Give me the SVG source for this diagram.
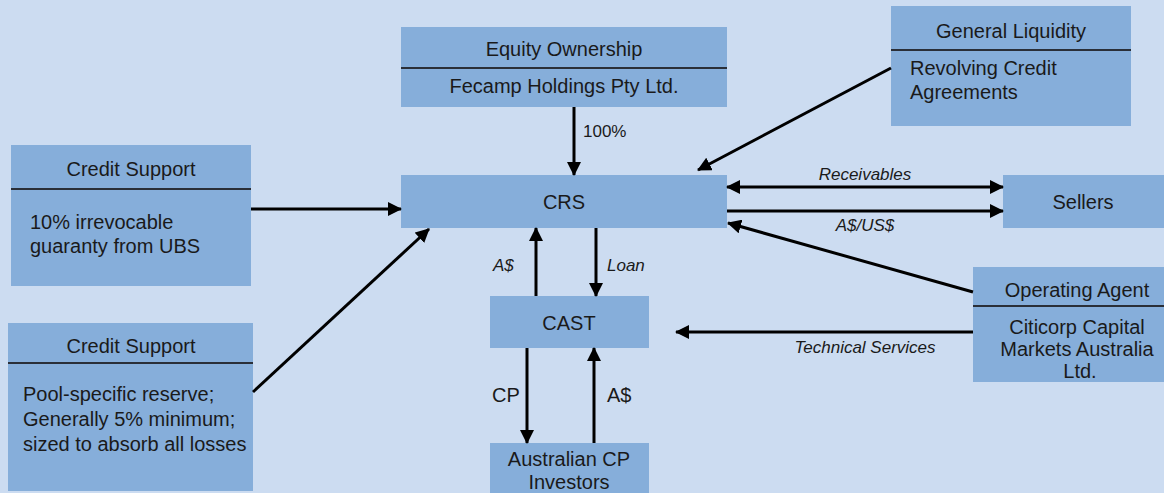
<svg xmlns="http://www.w3.org/2000/svg" width="1164" height="493" viewBox="0 0 1164 493">
<defs>
<style>
.box{fill:#86AEDA;}
.div{stroke:#2a2f38;stroke-width:2;}
.t{font-family:"Liberation Sans",Arial,sans-serif;font-size:20px;fill:#1a1a1a;}
.c{text-anchor:middle;}
.lbl{font-family:"Liberation Sans",Arial,sans-serif;font-size:17px;fill:#1a1a1a;}
.it{font-style:italic;}
.ln{stroke:#000;stroke-width:3;fill:none;}
</style>
<marker id="ah" markerWidth="14" markerHeight="14" refX="13" refY="7" orient="auto" markerUnits="userSpaceOnUse">
<path d="M0,0 L14,7 L0,14 Z" fill="#000"/>
</marker>
<marker id="as" markerWidth="14" markerHeight="14" refX="1" refY="7" orient="auto" markerUnits="userSpaceOnUse">
<path d="M14,0 L0,7 L14,14 Z" fill="#000"/>
</marker>
</defs>
<rect width="1164" height="493" fill="#CCDCF1"/>

<g id="equity">
<rect class="box" x="401" y="27" width="326" height="80"/>
<line class="div" x1="401" y1="68" x2="727" y2="68"/>
<text class="t c" x="564" y="56">Equity Ownership</text>
<text class="t c" x="564" y="93">Fecamp Holdings Pty Ltd.</text>
</g>

<g id="liquidity">
<rect class="box" x="891" y="6" width="240" height="120"/>
<line class="div" x1="891" y1="50" x2="1131" y2="50"/>
<text class="t c" x="1011" y="38">General Liquidity</text>
<text class="t" x="910" y="75">Revolving Credit</text>
<text class="t" x="910" y="99">Agreements</text>
</g>

<g id="credit1">
<rect class="box" x="11" y="145" width="240" height="141"/>
<line class="div" x1="11" y1="189" x2="251" y2="189"/>
<text class="t c" x="131" y="176">Credit Support</text>
<text class="t" x="30" y="229">10% irrevocable</text>
<text class="t" x="30" y="253">guaranty from UBS</text>
</g>

<g id="credit2">
<rect class="box" x="8" y="323" width="245" height="168"/>
<line class="div" x1="8" y1="363" x2="253" y2="363"/>
<text class="t c" x="131" y="353">Credit Support</text>
<text class="t" x="23" y="401">Pool-specific reserve;</text>
<text class="t" x="23" y="426">Generally 5% minimum;</text>
<text class="t" x="23" y="451">sized to absorb all losses</text>
</g>

<g id="crs">
<rect class="box" x="401" y="175" width="326" height="53"/>
<text class="t c" x="564" y="209">CRS</text>
</g>

<g id="sellers">
<rect class="box" x="1003" y="175" width="161" height="53"/>
<text class="t c" x="1083" y="209">Sellers</text>
</g>

<g id="cast">
<rect class="box" x="490" y="296" width="159" height="52"/>
<text class="t c" x="569" y="330">CAST</text>
</g>

<g id="investors">
<rect class="box" x="490" y="443" width="159" height="52"/>
<text class="t c" x="569" y="466">Australian CP</text>
<text class="t c" x="569" y="489">Investors</text>
</g>

<g id="agent">
<rect class="box" x="973" y="267" width="191" height="115"/>
<line class="div" x1="973" y1="306" x2="1164" y2="306"/>
<text class="t c" x="1077" y="297">Operating Agent</text>
<text class="t c" x="1077" y="334">Citicorp Capital</text>
<text class="t c" x="1077" y="356">Markets Australia</text>
<text class="t c" x="1080" y="378">Ltd.</text>
</g>

<g id="connectors">
<line class="ln" x1="574" y1="107" x2="574" y2="175" marker-end="url(#ah)"/>
<text class="lbl" x="583" y="137">100%</text>
<line class="ln" x1="891" y1="68" x2="698" y2="170" marker-end="url(#ah)"/>
<line class="ln" x1="251" y1="209" x2="401" y2="209" marker-end="url(#ah)"/>
<line class="ln" x1="253" y1="392" x2="429" y2="229" marker-end="url(#ah)"/>
<line class="ln" x1="727" y1="187" x2="1003" y2="187" marker-start="url(#as)" marker-end="url(#ah)"/>
<text class="lbl it c" x="865" y="180">Receivables</text>
<line class="ln" x1="727" y1="211" x2="1003" y2="211" marker-end="url(#ah)"/>
<text class="lbl it c" x="865" y="231">A$/US$</text>
<line class="ln" x1="973" y1="292" x2="728" y2="223" marker-end="url(#ah)"/>
<line class="ln" x1="973" y1="332" x2="676" y2="332" marker-end="url(#ah)"/>
<text class="lbl it c" x="865" y="353">Technical Services</text>
<line class="ln" x1="536" y1="296" x2="536" y2="228" marker-end="url(#ah)"/>
<text class="lbl it" x="493" y="271">A$</text>
<line class="ln" x1="596" y1="228" x2="596" y2="296" marker-end="url(#ah)"/>
<text class="lbl it" x="607" y="271">Loan</text>
<line class="ln" x1="527" y1="348" x2="527" y2="443" marker-end="url(#ah)"/>
<text class="t" x="492" y="402">CP</text>
<line class="ln" x1="594" y1="443" x2="594" y2="348" marker-end="url(#ah)"/>
<text class="t" x="607" y="402">A$</text>
</g>
</svg>
